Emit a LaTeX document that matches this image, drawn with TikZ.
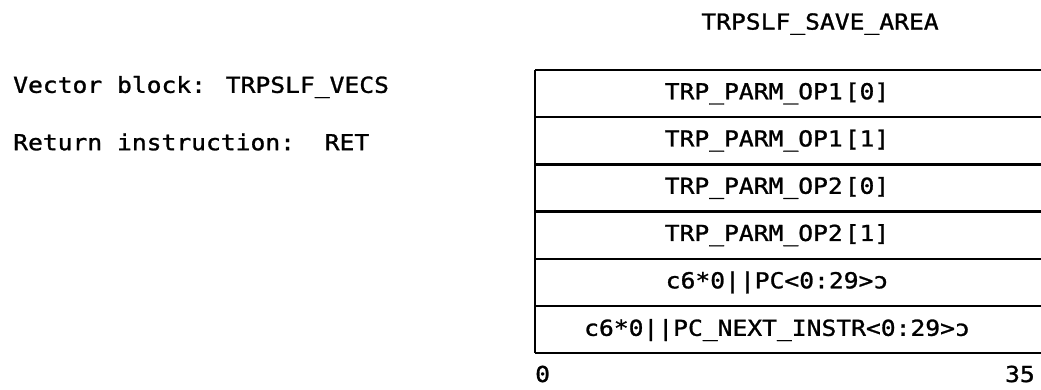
\documentclass[tikz,border=0pt]{standalone}
\usepackage{fontspec}
\newfontfamily\plotfont[FakeStretch=1.12,FakeBold=1.2]{DejaVu Sans Mono}
\usetikzlibrary{positioning}

\begin{document}
\begin{tikzpicture}[
x=1pt,y=-1pt,
txt/.style={
font=\plotfont\fontsize{22}{22}\selectfont,
inner sep=0pt
},
cell/.style={txt,anchor=center},
rule/.style={line width=2.4pt}
]
\useasboundingbox (0,0) rectangle (1041,390);

\node[txt,anchor=west] (vecs) at (13,87) {Vector block: TRPSLF\_VECS};
\node[txt,anchor=west] (ret) at (13,142) {Return instruction:\ \ RET};

\node[txt] (area) at (820,24) {TRPSLF\_SAVE\_AREA};

\node[cell] (opa) at (777,93.5) {TRP\_PARM\_OP1\kern2pt[0]};
\node[cell] (opb) at (777,140.7) {TRP\_PARM\_OP1\kern2pt[1]};
\node[cell] (opc) at (777,188) {TRP\_PARM\_OP2\kern2pt[0]};
\node[cell] (opd) at (777,235.2) {TRP\_PARM\_OP2\kern2pt[1]};
\node[cell] (pc) at (777,282.5) {c6*0||PC<0:29>ɔ};
\node[cell] (pcnext) at (777,330) {c6*0||PC\_NEXT\_INSTR<0:29>ɔ};

\node[txt,anchor=west] (lo) at (535,374) {0};
\node[txt,anchor=east] (hi) at (1035,374) {35};

\draw[rule] (535,70) -- (535,353);
\foreach \y in {70,117.2,164.4,211.6,258.8,306,353}
\draw[rule] (535,\y) -- (1041,\y);

\end{tikzpicture}
\end{document}
